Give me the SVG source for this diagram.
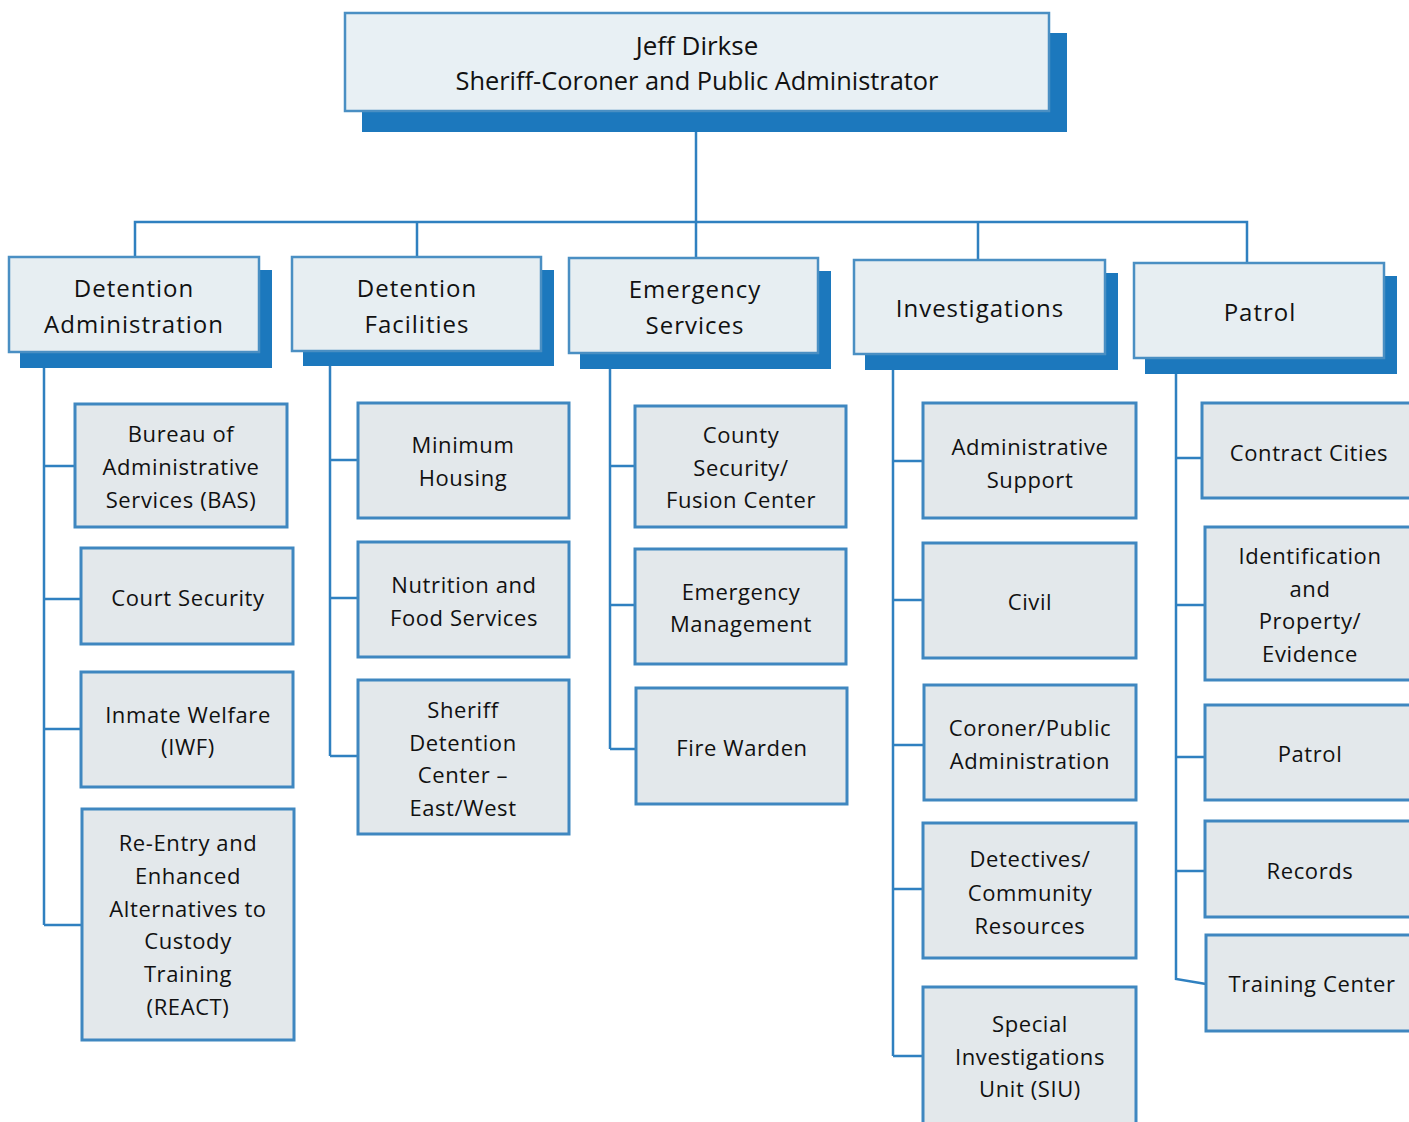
<svg xmlns="http://www.w3.org/2000/svg" width="1409" height="1122" viewBox="0 0 1409 1122">
<style>
.bg{fill:#ffffff}
.sh{fill:#1c78bd}
.top{fill:#e8f0f4;stroke:#4a8fc3;stroke-width:2.5}
.dept{fill:#e7eef2;stroke:#4a8fc3;stroke-width:2.5}
.unit{fill:#e3e8eb;stroke:#3f87c0;stroke-width:3}
.ln{fill:none;stroke:#2f80c0;stroke-width:2.5}
text{font-family:"Open Sans","Noto Sans","Liberation Sans",sans-serif;fill:#111111;text-anchor:middle}
.t1{font-size:26px}
.t2{font-size:24px;letter-spacing:1px}
.t3{font-size:22px;letter-spacing:0.6px}
</style>
<rect class="bg" x="0" y="0" width="1409" height="1122"/>
<g id="connectors">
<path class="ln" d="M696,132 V222"/>
<path class="ln" d="M135,257 V222 H1247 V263"/>
<path class="ln" d="M417,222 V257 M696,222 V258 M978,222 V260"/>
<path class="ln" d="M44,352 V925 M44,466 H75 M44,599 H81 M44,729 H81 M44,925 H82"/>
<path class="ln" d="M330,351 V756 M330,460 H358 M330,598 H358 M330,756 H358"/>
<path class="ln" d="M610,353 V749 M610,466 H635 M610,605 H635 M610,749 H636"/>
<path class="ln" d="M893,354 V1056 M893,461 H923 M893,600 H923 M893,745 H924 M893,889 H923 M893,1056 H923"/>
<path class="ln" d="M1176,358 V979 L1206,984 M1176,458 H1202 M1176,605 H1205 M1176,757 H1205 M1176,871 H1205"/>
</g>
<g id="sheriff">
<rect class="sh" x="362" y="33" width="705" height="99"/>
<rect class="top" x="345" y="13" width="704" height="98"/>
<text class="t1" x="697" y="55">Jeff Dirkse</text>
<text class="t1" x="697" y="90" textLength="483" lengthAdjust="spacingAndGlyphs">Sheriff-Coroner and Public Administrator</text>
</g>
<g id="detention-administration">
<rect class="sh" x="20" y="270" width="252" height="98"/>
<rect class="dept" x="9" y="257" width="250" height="95"/>
<text class="t2" x="134" y="297">Detention</text>
<text class="t2" x="134" y="333">Administration</text>
</g>
<g id="detention-facilities">
<rect class="sh" x="303" y="270" width="251" height="96"/>
<rect class="dept" x="292" y="257" width="249" height="94"/>
<text class="t2" x="417" y="297">Detention</text>
<text class="t2" x="417" y="333">Facilities</text>
</g>
<g id="emergency-services">
<rect class="sh" x="580" y="271" width="251" height="98"/>
<rect class="dept" x="569" y="258" width="249" height="95"/>
<text class="t2" x="695" y="298">Emergency</text>
<text class="t2" x="695" y="334">Services</text>
</g>
<g id="investigations">
<rect class="sh" x="865" y="273" width="253" height="97"/>
<rect class="dept" x="854" y="260" width="251" height="94"/>
<text class="t2" x="980" y="317">Investigations</text>
</g>
<g id="patrol-division">
<rect class="sh" x="1145" y="276" width="252" height="98"/>
<rect class="dept" x="1134" y="263" width="250" height="95"/>
<text class="t2" x="1260" y="321">Patrol</text>
</g>
<g id="bas">
<rect class="unit" x="75" y="404" width="212" height="123"/>
<text class="t3" x="181" y="442">Bureau of</text>
<text class="t3" x="181" y="475">Administrative</text>
<text class="t3" x="181" y="508">Services (BAS)</text>
</g>
<g id="court-security">
<rect class="unit" x="81" y="548" width="212" height="96"/>
<text class="t3" x="188" y="606">Court Security</text>
</g>
<g id="iwf">
<rect class="unit" x="81" y="672" width="212" height="115"/>
<text class="t3" x="188" y="723">Inmate Welfare</text>
<text class="t3" x="188" y="755">(IWF)</text>
</g>
<g id="react">
<rect class="unit" x="82" y="809" width="212" height="231"/>
<text class="t3" x="188" y="851">Re-Entry and</text>
<text class="t3" x="188" y="884">Enhanced</text>
<text class="t3" x="188" y="917">Alternatives to</text>
<text class="t3" x="188" y="949">Custody</text>
<text class="t3" x="188" y="982">Training</text>
<text class="t3" x="188" y="1015">(REACT)</text>
</g>
<g id="minimum-housing">
<rect class="unit" x="358" y="403" width="211" height="115"/>
<text class="t3" x="463" y="453">Minimum</text>
<text class="t3" x="463" y="486">Housing</text>
</g>
<g id="nutrition">
<rect class="unit" x="358" y="542" width="211" height="115"/>
<text class="t3" x="464" y="593">Nutrition and</text>
<text class="t3" x="464" y="626">Food Services</text>
</g>
<g id="sdc">
<rect class="unit" x="358" y="680" width="211" height="154"/>
<text class="t3" x="463" y="718">Sheriff</text>
<text class="t3" x="463" y="751">Detention</text>
<text class="t3" x="463" y="783">Center –</text>
<text class="t3" x="463" y="816">East/West</text>
</g>
<g id="county-security">
<rect class="unit" x="635" y="406" width="211" height="121"/>
<text class="t3" x="741" y="443">County</text>
<text class="t3" x="741" y="476">Security/</text>
<text class="t3" x="741" y="508">Fusion Center</text>
</g>
<g id="emergency-management">
<rect class="unit" x="635" y="549" width="211" height="115"/>
<text class="t3" x="741" y="600">Emergency</text>
<text class="t3" x="741" y="632">Management</text>
</g>
<g id="fire-warden">
<rect class="unit" x="636" y="688" width="211" height="116"/>
<text class="t3" x="742" y="756">Fire Warden</text>
</g>
<g id="admin-support">
<rect class="unit" x="923" y="403" width="213" height="115"/>
<text class="t3" x="1030" y="455">Administrative</text>
<text class="t3" x="1030" y="488">Support</text>
</g>
<g id="civil">
<rect class="unit" x="923" y="543" width="213" height="115"/>
<text class="t3" x="1030" y="610">Civil</text>
</g>
<g id="coroner">
<rect class="unit" x="924" y="685" width="212" height="115"/>
<text class="t3" x="1030" y="736">Coroner/Public</text>
<text class="t3" x="1030" y="769">Administration</text>
</g>
<g id="detectives">
<rect class="unit" x="923" y="823" width="213" height="135"/>
<text class="t3" x="1030" y="867">Detectives/</text>
<text class="t3" x="1030" y="901">Community</text>
<text class="t3" x="1030" y="934">Resources</text>
</g>
<g id="siu">
<rect class="unit" x="923" y="987" width="213" height="140"/>
<text class="t3" x="1030" y="1032">Special</text>
<text class="t3" x="1030" y="1065">Investigations</text>
<text class="t3" x="1030" y="1097">Unit (SIU)</text>
</g>
<g id="contract-cities">
<rect class="unit" x="1202" y="403" width="212" height="95"/>
<text class="t3" x="1309" y="461">Contract Cities</text>
</g>
<g id="identification">
<rect class="unit" x="1205" y="527" width="209" height="153"/>
<text class="t3" x="1310" y="564">Identification</text>
<text class="t3" x="1310" y="597">and</text>
<text class="t3" x="1310" y="629">Property/</text>
<text class="t3" x="1310" y="662">Evidence</text>
</g>
<g id="patrol-unit">
<rect class="unit" x="1205" y="705" width="209" height="95"/>
<text class="t3" x="1310" y="762">Patrol</text>
</g>
<g id="records">
<rect class="unit" x="1205" y="821" width="209" height="96"/>
<text class="t3" x="1310" y="879">Records</text>
</g>
<g id="training-center">
<rect class="unit" x="1206" y="935" width="208" height="96"/>
<text class="t3" x="1312" y="992">Training Center</text>
</g>
</svg>
